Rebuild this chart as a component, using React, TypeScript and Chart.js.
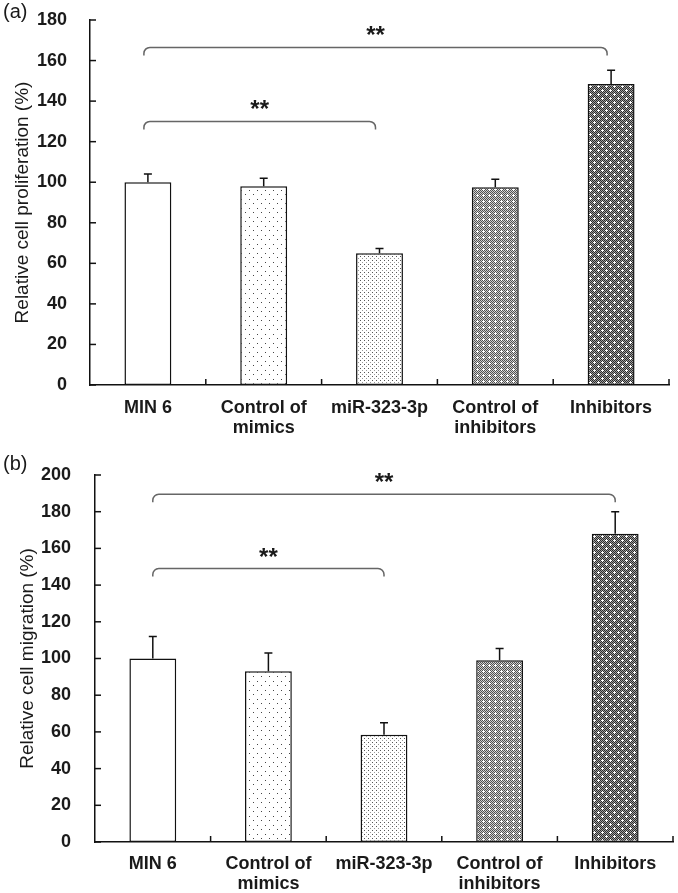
import React, { useEffect, useRef } from "react";
import { Chart, registerables } from "chart.js";

Chart.register(...registerables);

// ---------- data ----------
const categories: (string | string[])[] = [
  "MIN 6",
  ["Control of", "mimics"],
  "miR-323-3p",
  ["Control of", "inhibitors"],
  "Inhibitors",
];

const proliferationValues = [100, 98, 65, 97.5, 148.5];
const proliferationErrors = [4, 4, 2.3, 4, 6.7];
const proliferationMax = 180;
const proliferationBrackets = [
  { from: 0, to: 2, y: 130 },
  { from: 0, to: 4, y: 166.5 },
];

const migrationValues = [100, 93, 58.5, 99, 168];
const migrationErrors = [12, 10, 6.5, 6.5, 12];
const migrationMax = 200;
const migrationBrackets = [
  { from: 0, to: 2, y: 149 },
  { from: 0, to: 4, y: 189.5 },
];

const tickStep = 20;
const significance = "**";

// ---------- styles ----------
const FAMILY = "'Liberation Sans', Arial, Helvetica, sans-serif";
const INK = "#1a1a1a";

function makePattern(w: number, h: number, draw: (c: CanvasRenderingContext2D) => void): CanvasPattern | string {
  const cv = document.createElement("canvas");
  cv.width = w;
  cv.height = h;
  const c = cv.getContext("2d");
  if (!c) return "#fff";
  draw(c);
  const p = c.createPattern(cv, "repeat");
  return p || "#fff";
}

function px(c: CanvasRenderingContext2D, x: number, y: number, col: string) {
  c.fillStyle = col;
  c.fillRect(x, y, 1, 1);
}

function buildPatterns() {
  const white = "#ffffff";
  const sparse = makePattern(8, 9, (c) => {
    c.fillStyle = white;
    c.fillRect(0, 0, 8, 9);
    px(c, 1, 1, "#444");
    px(c, 5, 5, "#444");
  });
  const dense = makePattern(4, 4, (c) => {
    c.fillStyle = white;
    c.fillRect(0, 0, 4, 4);
    px(c, 0, 0, "#555");
    px(c, 2, 2, "#999");
  });
  const cross = (c: CanvasRenderingContext2D, x: number, y: number) => {
    px(c, x, y, white);
    px(c, x - 1, y, white);
    px(c, x + 1, y, white);
    px(c, x, y - 1, white);
    px(c, x, y + 1, white);
  };
  const medium = makePattern(6, 6, (c) => {
    for (let y = 0; y < 6; y++)
      for (let x = 0; x < 6; x++) px(c, x, y, (x + y) % 2 === 0 ? "#505050" : "#d0d0d0");
    cross(c, 3, 3);
  });
  const dark = makePattern(8, 8, (c) => {
    for (let y = 0; y < 8; y++)
      for (let x = 0; x < 8; x++) px(c, x, y, (x + y) % 2 === 0 ? "#2a2a2a" : "#a0a0a0");
    cross(c, 2, 2);
    cross(c, 6, 6);
  });
  return [white, sparse, dense, medium, dark];
}

interface Geometry {
  canvasHeight: number;
  yWidth: number;
  padRight: number;
  padTop: number;
  xHeight: number;
  titlePad: number;
  yTickPad: number;
  xTickPad: number;
  bracketShift: number;
  labelY: number;
}

interface PanelProps {
  panel: string;
  title: string;
  values: number[];
  errors: number[];
  yMax: number;
  brackets: { from: number; to: number; y: number }[];
  geo: Geometry;
}

function Panel({ panel, title, values, errors, yMax, brackets, geo }: PanelProps) {
  const ref = useRef<HTMLCanvasElement | null>(null);

  useEffect(() => {
    if (!ref.current) return;
    const patterns = buildPatterns();

    const overlay = {
      id: "overlay",
      afterDraw(chart: any) {
        const ctx: CanvasRenderingContext2D = chart.ctx;
        const xs = chart.scales.x;
        const ys = chart.scales.y;
        const area = chart.chartArea;
        ctx.save();
        ctx.strokeStyle = "#111";
        ctx.lineWidth = 1.5;

        // inner y tick marks
        ys.ticks.forEach((t: any) => {
          const y = ys.getPixelForValue(t.value);
          ctx.beginPath();
          ctx.moveTo(area.left, y);
          ctx.lineTo(area.left + 6, y);
          ctx.stroke();
        });

        // inner x tick marks at category boundaries
        const catW = xs.getPixelForValue(1) - xs.getPixelForValue(0);
        for (let i = 0; i < values.length; i++) {
          const x = xs.getPixelForValue(i) + catW / 2;
          ctx.beginPath();
          ctx.moveTo(x, area.bottom);
          ctx.lineTo(x, area.bottom - 6);
          ctx.stroke();
        }

        // error bars (upper only)
        values.forEach((v, i) => {
          const x = xs.getPixelForValue(i);
          const y0 = ys.getPixelForValue(v);
          const y1 = ys.getPixelForValue(v + errors[i]);
          ctx.beginPath();
          ctx.moveTo(x, y0);
          ctx.lineTo(x, y1);
          ctx.moveTo(x - 4, y1);
          ctx.lineTo(x + 4, y1);
          ctx.stroke();
        });

        // significance brackets
        const r = 6;
        const drop = 8;
        brackets.forEach((b) => {
          const x1 = xs.getPixelForValue(b.from) + geo.bracketShift;
          const x2 = xs.getPixelForValue(b.to) + geo.bracketShift;
          const y = ys.getPixelForValue(b.y);
          ctx.strokeStyle = "#666";
          ctx.lineWidth = 1.5;
          ctx.beginPath();
          ctx.moveTo(x1, y + drop);
          ctx.arcTo(x1, y, x1 + r, y, r);
          ctx.lineTo(x2 - r, y);
          ctx.arcTo(x2, y, x2, y + drop, r);
          ctx.lineTo(x2, y + drop);
          ctx.stroke();
          ctx.fillStyle = INK;
          ctx.font = `bold 24px ${FAMILY}`;
          ctx.textAlign = "center";
          ctx.textBaseline = "alphabetic";
          ctx.fillText(significance, (x1 + x2) / 2, y - 4);
        });

        // panel label
        ctx.fillStyle = INK;
        ctx.font = `20px ${FAMILY}`;
        ctx.textAlign = "left";
        ctx.textBaseline = "middle";
        ctx.fillText(panel, 3, geo.labelY);
        ctx.restore();
      },
    };

    const tickFont = { family: FAMILY, size: 18, weight: "bold" as const, lineHeight: 1.11 };

    const chart = new Chart(ref.current, {
      type: "bar",
      data: {
        labels: categories as any,
        datasets: [
          {
            data: values,
            backgroundColor: patterns as any,
            borderColor: "#111",
            borderWidth: 1.5,
            borderSkipped: false,
            barPercentage: 0.405,
            categoryPercentage: 1,
          },
        ],
      },
      options: {
        animation: false,
        responsive: false,
        maintainAspectRatio: false,
        layout: { padding: { left: 0, right: geo.padRight, top: geo.padTop, bottom: 0 } },
        plugins: { legend: { display: false }, tooltip: { enabled: false } },
        scales: {
          x: {
            grid: { display: false },
            border: { display: true, color: "#111", width: 1.5 },
            ticks: {
              font: tickFont,
              color: INK,
              padding: geo.xTickPad,
              maxRotation: 0,
              autoSkip: false,
            },
            afterFit: (s: any) => {
              s.height = geo.xHeight;
              s.paddingLeft = 0;
              s.paddingRight = 0;
            },
          },
          y: {
            min: 0,
            max: yMax,
            grid: { display: false },
            border: { display: true, color: "#111", width: 1.5 },
            ticks: { stepSize: tickStep, font: tickFont, color: INK, padding: geo.yTickPad },
            title: {
              display: true,
              text: title,
              color: INK,
              font: { family: FAMILY, size: 19, lineHeight: 1.2 },
              padding: { top: geo.titlePad, bottom: 0 },
            },
            afterFit: (s: any) => {
              s.width = geo.yWidth;
              s.paddingTop = 0;
              s.paddingBottom = 0;
            },
          },
        },
      },
      plugins: [overlay],
    });
    return () => chart.destroy();
  }, []);

  return <canvas ref={ref} width={678} height={geo.canvasHeight} style={{ display: "block" }} />;
}

const topGeo: Geometry = {
  canvasHeight: 446,
  yWidth: 90,
  padRight: 9,
  padTop: 20,
  xHeight: 61,
  titlePad: 11.6,
  yTickPad: 15,
  xTickPad: 5,
  bracketShift: -4,
  labelY: 12,
};

const bottomGeo: Geometry = {
  canvasHeight: 447,
  yWidth: 95,
  padRight: 5,
  padTop: 29,
  xHeight: 51,
  titlePad: 15.9,
  yTickPad: 16,
  xTickPad: 4,
  bracketShift: 0,
  labelY: 18,
};

export default function App() {
  return (
    <div style={{ position: "absolute", left: 0, top: 0, width: 678, height: 893, background: "#fff" }}>
      <Panel
        panel="(a)"
        title="Relative cell proliferation (%)"
        values={proliferationValues}
        errors={proliferationErrors}
        yMax={proliferationMax}
        brackets={proliferationBrackets}
        geo={topGeo}
      />
      <Panel
        panel="(b)"
        title="Relative cell migration (%)"
        values={migrationValues}
        errors={migrationErrors}
        yMax={migrationMax}
        brackets={migrationBrackets}
        geo={bottomGeo}
      />
    </div>
  );
}
